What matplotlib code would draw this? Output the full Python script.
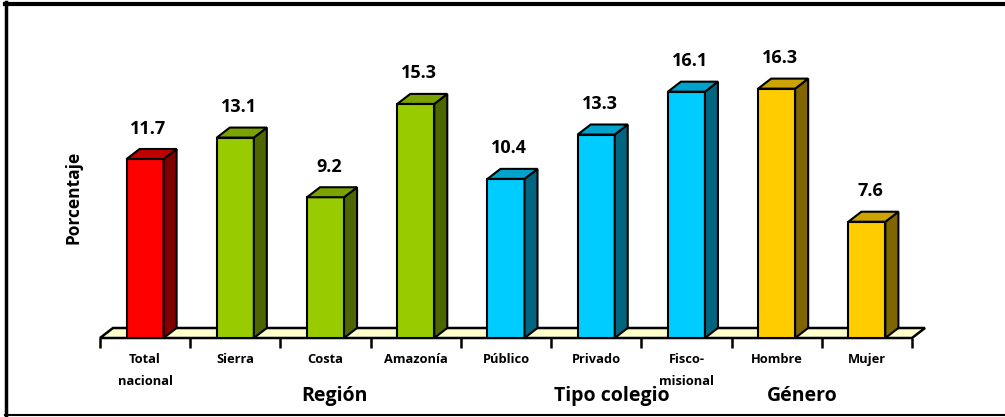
from matplotlib import pyplot as plt
from matplotlib.patches import Polygon
from matplotlib.lines import Line2D
import numpy as np

plt.rcParams['font.family'] = ['Open Sans', 'DejaVu Sans']

categories = ['Total\nnacional', 'Sierra', 'Costa', 'Amazonía', 'Público',
              'Privado', 'Fisco-\nmisional', 'Hombre', 'Mujer']
values = [11.7, 13.1, 9.2, 15.3, 10.4, 13.3, 16.1, 16.3, 7.6]
groups = ['Región', 'Tipo colegio', 'Género']
group_pos = [2.1, 5.17, 7.28]

# front, top, side colours per bar
front = ['#FF0000'] + ['#99CC00'] * 3 + ['#00CCFF'] * 3 + ['#FFCC00'] * 2
top = ['#C00000'] + ['#7AA300'] * 3 + ['#00A3CC'] * 3 + ['#CCA300'] * 2
side = ['#800000'] + ['#4D6600'] * 3 + ['#006680'] * 3 + ['#806600'] * 2

W, H = 1005, 417
fig = plt.figure(figsize=(W / 100, H / 100), dpi=100)
px_unit = 15.3
ymax = 18
ax = fig.add_axes([100 / W, 79 / H, 812 / W, ymax * px_unit / H])

x = np.arange(len(values))
bw = 37 / 90.2
dx = 13 / 90.2
dy = 10 / px_unit

# floor
floor = Polygon([(-0.5, 0), (8.5, 0), (8.5 + dx, dy), (-0.5 + dx, dy)],
                closed=True, facecolor='#FFFFCC', edgecolor='black', lw=1.8,
                clip_on=False, zorder=1)
ax.add_patch(floor)

ax.bar(x, values, width=bw, color=front, edgecolor='black', lw=1.5, zorder=3)
for xi, v, tc, sc in zip(x, values, top, side):
    l, r = xi - bw / 2, xi + bw / 2
    ax.add_patch(Polygon([(r, 0), (r + dx, dy), (r + dx, v + dy), (r, v)],
                         closed=True, facecolor=sc, edgecolor='black', lw=1.5,
                         clip_on=False, zorder=3))
    ax.add_patch(Polygon([(l, v), (r, v), (r + dx, v + dy), (l + dx, v + dy)],
                         closed=True, facecolor=tc, edgecolor='black', lw=1.5,
                         clip_on=False, zorder=3))
    ax.text(xi + dx / 4, v + dy + 0.75, f'{v:.1f}', ha='center', va='bottom',
            fontsize=13, fontweight='bold')

ax.set_xlim(-0.5, 8.5)
ax.set_ylim(0, ymax)
ax.set_yticks([])
ax.set_xticks(np.arange(-0.5, 9, 1))
ax.set_xticklabels([])
ax.set_xticks(x, minor=True)
ax.set_xticklabels(categories, minor=True, fontsize=9.3, fontweight='bold',
                   linespacing=1.85, va='top')
ax.tick_params(axis='x', which='major', length=7, width=1.8, direction='out')
ax.tick_params(axis='x', which='minor', length=0, pad=11)
for s in ['top', 'right', 'left', 'bottom']:
    ax.spines[s].set_visible(False)
ax.patch.set_alpha(0)

for g, gp in zip(groups, group_pos):
    ax.text(gp, -58 / px_unit, g, ha='center', va='center', fontsize=14,
            fontweight='bold', clip_on=False)

fig.text(73 / W, 1 - 197 / H, 'Porcentaje', rotation=90, ha='center',
         va='center', fontsize=12.5, fontweight='bold')

# outer frame
fig.add_artist(Line2D([5 / W, 1], [1 - 3.5 / H, 1 - 3.5 / H], color='black', lw=3))
fig.add_artist(Line2D([5.5 / W, 5.5 / W], [2 / H, 1 - 2 / H], color='black', lw=2.5))
fig.add_artist(Line2D([5 / W, 1], [2 / H, 2 / H], color='black', lw=1.5))

fig.savefig('out.png', dpi=100)
